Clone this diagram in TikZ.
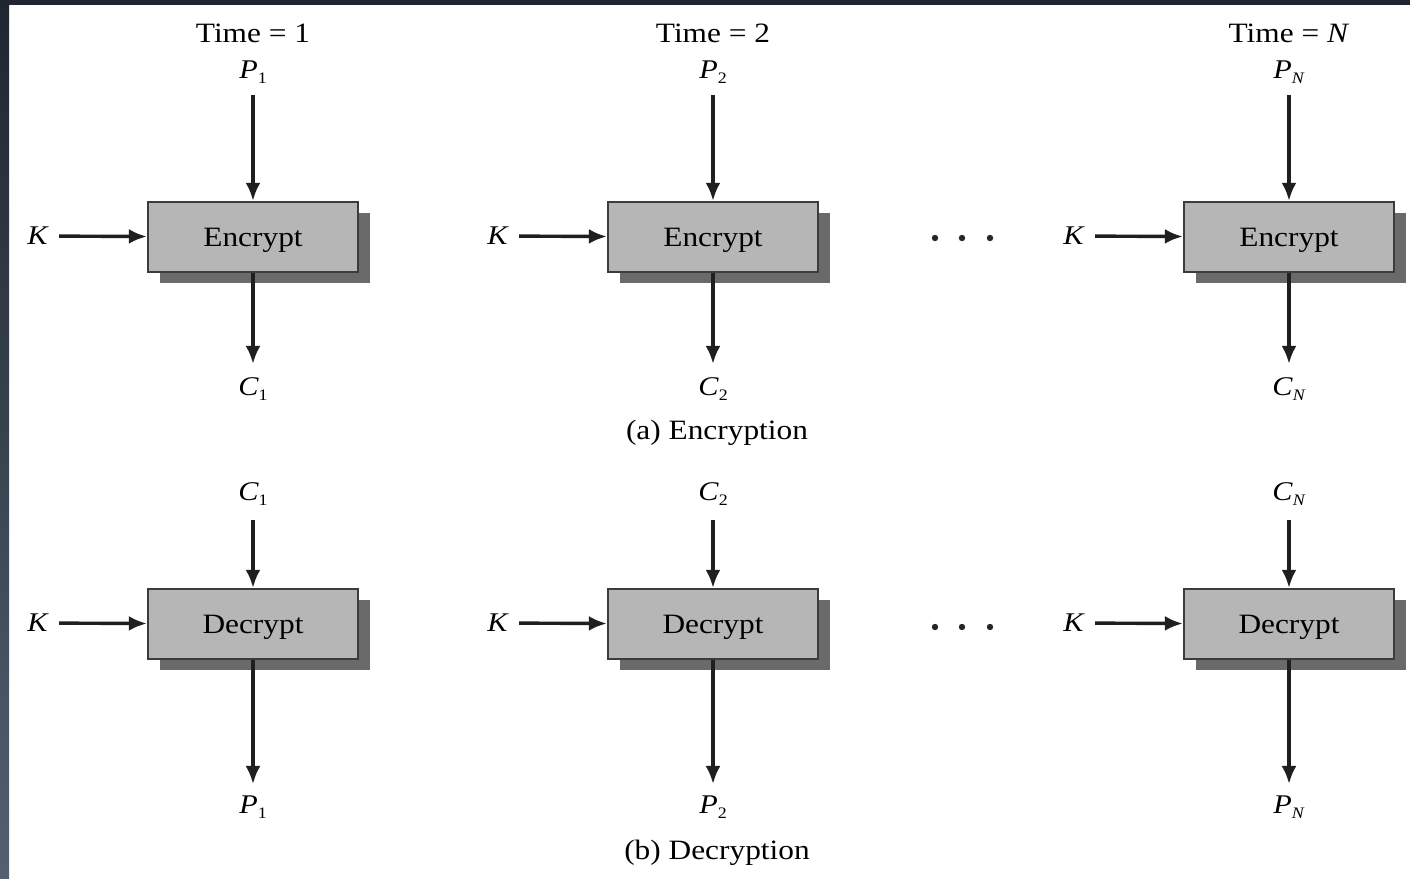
\documentclass[tikz,border=0pt]{standalone}
\usepackage{fontspec}
\setmainfont{Liberation Serif}[FakeStretch=1.12]
\usetikzlibrary{arrows.meta,shadows}
\definecolor{boxgray}{HTML}{B6B6B6}
\definecolor{shadowgray}{HTML}{6A6A6A}
\definecolor{edgegray}{HTML}{3C3C3C}
\definecolor{frametop}{HTML}{1F2630}
\definecolor{framebot}{HTML}{526070}
\newcommand\lbl[2]{\textit{#1}\raisebox{-0.45ex}{\footnotesize #2}}
\tikzset{
  cipherbox/.style={draw=edgegray, line width=1.2pt, fill=boxgray,
    minimum width=105pt, minimum height=35pt, inner sep=0pt,
    text depth=0pt, font=\fontsize{14}{16}\selectfont,
    drop shadow={shadow xshift=6pt, shadow yshift=-5.5pt,
      fill=shadowgray, opacity=1}},
  sym/.style={inner sep=0pt, font=\fontsize{13.5}{15}\selectfont},
  caption/.style={inner sep=0pt, font=\fontsize{14}{16}\selectfont},
  arr/.style={line width=1.7pt, draw=black!88,
    -{Latex[length=9pt,width=7.5pt]}},
  dotmark/.style={fill=black!85},
}
\begin{document}
\begin{tikzpicture}[x=0.5pt,y=-0.5pt]
\useasboundingbox (0,0) rectangle (1410,879);
\fill[white] (0,0) rectangle (1410,879);
% dark frame on the top and left
\shade[top color=frametop, bottom color=framebot] (0,0) rectangle (9,879);
\fill[frametop] (0,0) rectangle (1410,5);

% ---------- encryption row ----------
\foreach \n/\x/\t/\s in {1/253/1/1, 2/713/2/2, 3/1289/\textit{N}/\textit{N}}{
  \node[caption] (time\n) at (\x,33) {Time = \t};
  \node[sym] (pin\n) at (\x,72) {\lbl{P}{\s}};
  \node[cipherbox] (enc\n) at (\x,237) {Encrypt};
  \node[sym] (cout\n) at (\x,389) {\lbl{C}{\s}};
  \node[sym] (kenc\n) at ({\x-215},236) {\textit{K}};
  \draw[arr, shorten <=5.5pt] (pin\n) -- (enc\n);
  \draw[arr, shorten >=6.5pt] (enc\n) -- (cout\n);
  \draw[arr, shorten <=5pt] (kenc\n) -- (enc\n);
}
\node[caption] (capa) at (717,433) {(a) Encryption};

% ---------- decryption row ----------
\foreach \n/\x/\s in {1/253/1, 2/713/2, 3/1289/\textit{N}}{
  \node[sym] (cin\n) at (\x,494) {\lbl{C}{\s}};
  \node[cipherbox] (dec\n) at (\x,624) {Decrypt};
  \node[sym] (pout\n) at (\x,807) {\lbl{P}{\s}};
  \node[sym] (kdec\n) at ({\x-215},623) {\textit{K}};
  \draw[arr, shorten <=7pt] (cin\n) -- (dec\n);
  \draw[arr, shorten >=5.5pt] (dec\n) -- (pout\n);
  \draw[arr, shorten <=5pt] (kdec\n) -- (dec\n);
}
\node[caption] (capb) at (717,853) {(b) Decryption};

% ellipsis dots between the second and last stage
\foreach \y in {238,627}{
  \foreach \x in {935,962,990}{
    \fill[dotmark] (\x,\y) circle (3.2);
  }
}
\end{tikzpicture}
\end{document}
